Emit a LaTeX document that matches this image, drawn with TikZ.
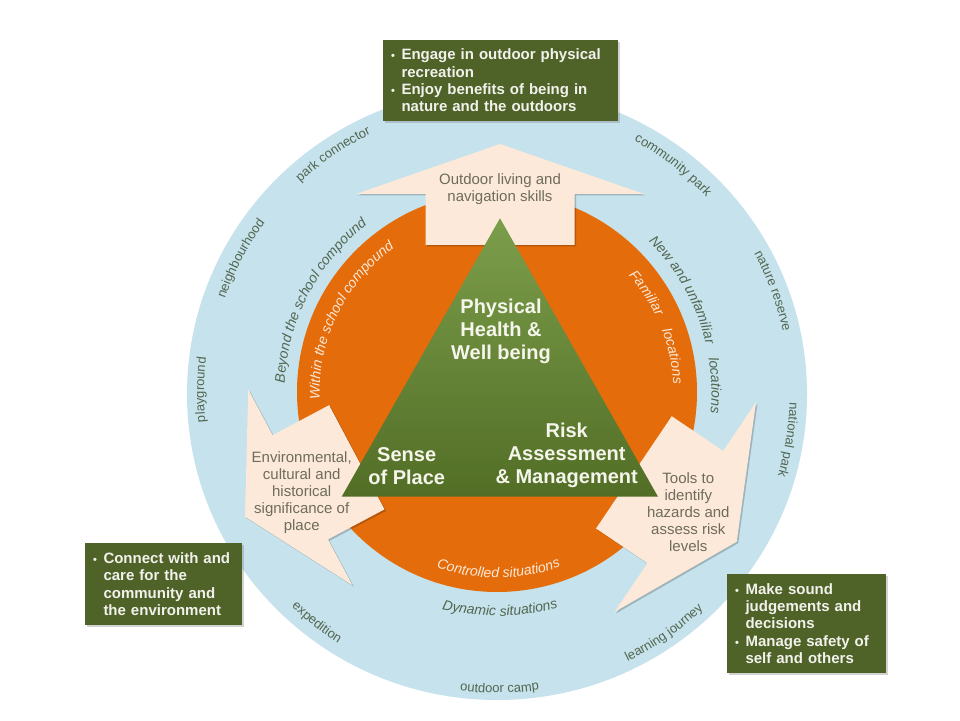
\documentclass[tikz,border=0pt]{standalone}
\usepackage{fontspec}
\setmainfont{Liberation Sans}
\usetikzlibrary{decorations.text,shadows}
\definecolor{ringblue}{RGB}{198,226,236}
\definecolor{ringorange}{RGB}{228,108,10}
\definecolor{peach}{RGB}{253,233,217}
\definecolor{boxgreen}{RGB}{79,98,40}
\definecolor{ringtxt}{RGB}{82,102,80}
\definecolor{orangetxt}{RGB}{253,233,217}
\definecolor{arrowtxt}{RGB}{110,108,92}
\definecolor{boxtxt}{RGB}{242,242,236}
\definecolor{tritxt}{RGB}{245,245,235}
\definecolor{trilight}{RGB}{124,158,75}
\definecolor{tridark}{RGB}{82,110,38}
\newcommand\bul{\makebox[10.5pt][l]{\fontsize{11}{11}\selectfont\textbullet}}
\newcommand\fouter{\fontsize{13}{15}\selectfont\color{ringtxt}}
\newcommand\fmid{\fontsize{14}{16}\selectfont\itshape\color{ringtxt}}
\newcommand\finner{\fontsize{14}{16}\selectfont\itshape\color{orangetxt}}
\newcommand\cwtext[4]{\path[shift={(497,327)},decorate,decoration={text along path,text align=center,text={|#3|#4}}] ({#2+50}:#1pt) arc[start angle={#2+50},end angle={#2-50},radius=#1pt];}
\newcommand\ccwtext[4]{\path[shift={(497,327)},decorate,decoration={text along path,text align=center,text={|#3|#4}}] ({#2-50}:#1pt) arc[start angle={#2-50},end angle={#2+50},radius=#1pt];}
\newcommand\bigarrow[7]{%
  \fill[arrowshadow, shift={(#1+1.5,#2-1.5)}, rotate=#3] (0,0) -- (-#4,#5) -- (-#4,#6) -- ({-#4-#7},#6) -- ({-#4-#7},-#6) -- (-#4,-#6) -- (-#4,-#5) -- cycle;
  \fill[arrowshape, shift={(#1,#2)}, rotate=#3] (0,0) -- (-#4,#5) -- (-#4,#6) -- ({-#4-#7},#6) -- ({-#4-#7},-#6) -- (-#4,-#6) -- (-#4,-#5) -- cycle;}
\begin{document}
\begin{tikzpicture}[x=1pt,y=1pt,
  arrowshape/.style={fill=peach},
  arrowshadow/.style={fill=black,opacity=0.2},
  tritext/.style={font=\fontsize{20}{23}\selectfont\bfseries,text=tritxt,align=center,inner sep=0pt},
  arrowtext/.style={font=\fontsize{15}{17}\selectfont,text=arrowtxt,align=center,inner sep=0pt},
  gbox/.style={fill=boxgreen,text=boxtxt,font=\fontsize{15}{17.3}\selectfont\bfseries,align=left,inner xsep=8pt,inner ysep=0pt,drop shadow={opacity=0.35,shadow xshift=2pt,shadow yshift=-2pt}}]
\useasboundingbox (0,0) rectangle (960,720);
\fill[white] (0,0) rectangle (960,720);
\coordinate (C) at (497,327);
% rings
\fill[ringblue] (497,326) ellipse[x radius=310pt,y radius=306pt];
\fill[ringorange] (497,328) circle[radius=200pt];
% outer ring labels
\cwtext{288}{124.5}{\fouter}{park connector}
\cwtext{287}{52.3}{\fouter}{community park}
\cwtext{288}{152.3}{\fouter}{neighbourhood}
\cwtext{292.5}{20.3}{\fouter}{nature reserve}
\cwtext{293}{179.4}{\fouter}{playground}
\cwtext{292.7}{-9.1}{\fouter}{national park}
\ccwtext{296.5}{231.9}{\fouter}{expedition}
\ccwtext{298.6}{304.8}{\fouter}{learning journey}
\ccwtext{300}{270.5}{\fouter}{outdoor camp}
% middle ring labels
\cwtext{212.5}{152.5}{\fmid}{Beyond the school compound}
\cwtext{214.5}{29}{\fmid}{New and unfamiliar}
\cwtext{214.5}{2}{\fmid}{locations}
\ccwtext{223}{270.8}{\fmid}{Dynamic situations}
% orange ring labels
\cwtext{177.5}{153.7}{\finner}{Within the school compound}
\cwtext{176.5}{33.7}{\finner}{Familiar}
\cwtext{176.5}{11.9}{\finner}{locations}
\ccwtext{185}{270.5}{\finner}{Controlled situations}
% arrows
\bigarrow{500}{576}{90}{50}{144}{74.5}{51}
\bigarrow{245}{203.3}{208}{62.6}{110.8}{59}{64}
\bigarrow{736.7}{178.3}{326}{62}{126.5}{67.7}{62}
% triangle
\coordinate (apex) at (500,501.7);
\coordinate (bl) at (341.7,223.3);
\coordinate (br) at (658,223.3);
\shade[top color=trilight,bottom color=tridark] (apex) -- (bl) -- (br) -- cycle;
\node[tritext] (phys) at (501,389) {Physical\\Health \&\\Well being};
\node[tritext] (sense) at (406.7,254.3) {Sense\\of Place};
\node[tritext] (risk) at (566.7,265) {Risk\\Assessment\\\& Management};
% arrow texts
\node[arrowtext] (outdoor) at (500,531) {Outdoor living and\\navigation skills};
\node[arrowtext] (env) at (301.7,227) {Environmental,\\cultural and\\historical\\significance of\\place};
\node[arrowtext] (tools) at (688.3,207.5) {Tools to\\identify\\hazards and\\assess risk\\levels};
% boxes
\node[gbox,minimum width=235pt,minimum height=81pt,text width=219pt] (topbox) at (500.5,639.5)
  {\bul Engage in outdoor physical\\\hspace*{10.5pt}recreation\\\bul Enjoy benefits of being in\\\hspace*{10.5pt}nature and the outdoors};
\node[gbox,minimum width=157pt,minimum height=82pt,text width=141pt] (leftbox) at (163.5,136)
  {\bul Connect with and\\\hspace*{10.5pt}care for the\\\hspace*{10.5pt}community and\\\hspace*{10.5pt}the environment};
\node[gbox,minimum width=159pt,minimum height=99pt,text width=143pt] (rightbox) at (806.5,96.5)
  {\bul Make sound\\\hspace*{10.5pt}judgements and\\\hspace*{10.5pt}decisions\\\bul Manage safety of\\\hspace*{10.5pt}self and others};
\end{tikzpicture}
\end{document}
